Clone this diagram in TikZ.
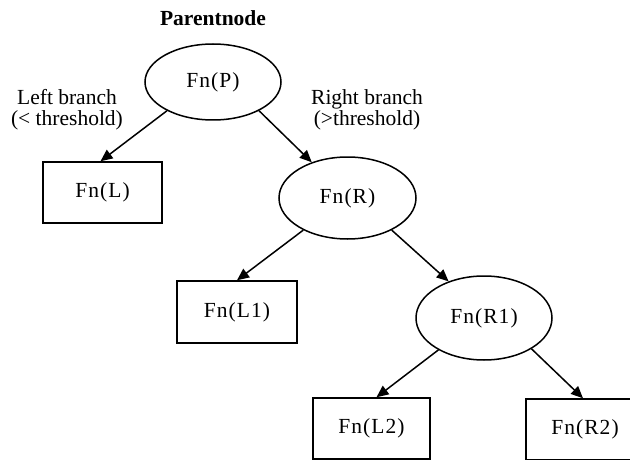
\documentclass[tikz,border=0pt]{standalone}
\usepackage{fontspec}
\setmainfont{Liberation Serif}
\newfontfamily\fnfont[LetterSpace=5]{Liberation Serif}
\usetikzlibrary{shapes.geometric,arrows.meta}
\begin{document}
\begin{tikzpicture}[x=1pt,y=-1pt,
  every node/.style={font=\fontsize{21.5}{21}\selectfont},
  ell/.style={draw,ellipse,line width=1.5pt,inner sep=0pt,font=\fontsize{21.5}{24}\fnfont},
  boxn/.style={draw,rectangle,line width=1.5pt,inner sep=0pt,font=\fontsize{21.5}{24}\fnfont},
  conn/.style={line width=1.5pt,-{Triangle[length=12pt,width=10.5pt]}},
  lbl/.style={align=center,inner sep=0pt}]
\path[use as bounding box,clip] (0,0) rectangle (630,460);
\node[inner sep=0pt,font=\fontsize{21.5}{24}\selectfont\bfseries] (title) at (213,18) {Parentnode};
\node[ell,minimum width=136pt,minimum height=76pt] (P) at (213,82) {Fn(P)};
\node[boxn,minimum width=119pt,minimum height=61pt] (L) at (102.5,192.5) {Fn(L)};
\node[ell,minimum width=137pt,minimum height=82pt] (R) at (347.5,198) {Fn(R)};
\node[boxn,minimum width=120pt,minimum height=62pt] (L1) at (237,312) {Fn(L1)};
\node[ell,minimum width=136pt,minimum height=84pt] (R1) at (484,318) {Fn(R1)};
\node[boxn,minimum width=117pt,minimum height=61pt] (L2) at (371.5,428.5) {Fn(L2)};
\node[boxn,minimum width=118pt,minimum height=61pt] (R2) at (585,429.5) {Fn(R2)};
\node[lbl] (lb) at (67,110) {Left branch\\(< threshold)};
\node[lbl] (rb) at (367,110) {Right branch\\(>threshold)};
\draw[conn] (P.212) -- ([xshift=-2pt]L.north);
\draw[conn] (P.-32) -- (R.135);
\draw[conn] (R.216) -- (L1.north);
\draw[conn] (R.-36) -- (R1.134);
\draw[conn] (R1.215) -- ([xshift=5pt]L2.north);
\draw[conn] (R1.-33) -- ([xshift=-2pt]R2.north);
\end{tikzpicture}
\end{document}
